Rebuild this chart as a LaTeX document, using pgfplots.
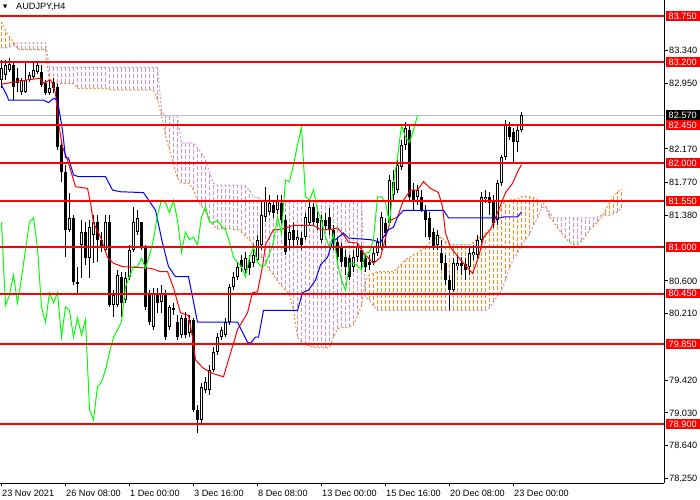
\documentclass[border=0pt]{standalone}
\usepackage{fontspec}
\setmainfont{Liberation Sans}
\newfontfamily\symfont{DejaVu Sans}
\usepackage{pgfplots}
\usepackage{pgfplotstable}
\pgfplotsset{compat=1.18}

\definecolor{sandy}{RGB}{245,140,50}
\definecolor{thist}{RGB}{200,150,200}
\definecolor{mtlime}{RGB}{0,255,0}
\definecolor{mtred}{RGB}{255,0,0}
\definecolor{mtblue}{RGB}{0,0,255}

% vertical bars drawn as error bars only
\pgfplotsset{
  vbar/.style n args={3}{color=#1, draw=none, mark=none,
    error bars/.cd, y dir=both, y explicit, error mark=none,
    error bar style={color=#1, draw=#1, line width=#2, #3}},
}

% AUDJPY H4 candles: bar index, open, high, low, close
\pgfplotstableread{
i o h l c
0 82.99 83.23 82.89 83.13
1 83.05 83.23 82.99 83.17
2 83.11 83.25 83.08 83.18
3 83.17 83.20 82.75 82.91
4 83.01 83.13 82.85 82.95
5 82.85 83.01 82.81 82.99
6 82.85 83.19 82.83 82.99
7 82.99 83.08 82.96 83.05
8 83.02 83.19 83.00 83.11
9 83.08 83.20 83.06 83.17
10 83.08 83.17 82.91 82.93
11 82.95 82.99 82.81 82.83
12 82.83 82.99 82.81 82.89
13 82.96 83.01 82.83 82.89
14 82.91 82.94 82.16 82.19
15 82.22 82.28 81.78 81.89
16 81.89 81.98 80.88 81.21
17 81.21 81.65 81.18 81.35
18 81.35 81.38 80.55 80.59
19 80.57 80.77 80.46 80.59
20 81.03 81.32 80.63 81.18
21 81.18 81.30 80.79 80.87
22 80.87 81.32 80.63 81.24
23 81.15 81.38 80.81 81.30
24 81.30 81.38 80.82 81.09
25 81.09 81.18 80.94 81.00
26 80.97 81.38 80.94 81.30
27 81.30 81.38 80.29 80.31
28 80.31 80.49 80.17 80.43
29 80.31 80.73 80.29 80.67
30 80.65 80.71 80.17 80.34
31 80.37 80.71 80.34 80.63
32 80.65 81.03 80.61 80.97
33 80.97 81.48 80.94 81.30
34 81.18 81.44 81.15 81.35
35 81.30 81.30 80.97 80.99
36 81.00 81.03 80.25 80.29
37 80.43 80.49 80.08 80.11
38 80.05 80.52 80.02 80.46
39 80.46 80.52 80.22 80.34
40 80.35 80.55 80.22 80.46
41 80.46 80.49 79.90 79.93
42 80.05 80.31 80.02 80.29
43 80.28 80.34 80.19 80.25
44 80.11 80.19 79.90 79.93
45 79.96 80.19 79.92 80.16
46 80.16 80.23 79.92 79.96
47 79.98 80.19 79.93 80.14
48 80.14 80.16 79.04 79.07
49 79.07 79.12 78.79 78.95
50 78.95 79.39 78.89 79.34
51 79.30 79.46 79.27 79.40
52 79.30 79.60 79.24 79.54
53 79.54 79.81 79.52 79.75
54 79.75 79.98 79.72 79.93
55 79.93 80.05 79.90 80.02
56 79.96 80.16 79.93 80.11
57 80.11 80.57 80.08 80.53
58 80.53 80.71 80.49 80.65
59 80.65 80.82 80.61 80.77
60 80.85 80.91 80.71 80.77
61 80.73 80.94 80.69 80.87
62 80.82 80.91 80.67 80.75
63 80.81 81.03 80.77 80.91
64 80.85 81.15 80.82 81.09
65 81.03 81.56 80.97 81.38
66 81.36 81.72 81.30 81.56
67 81.42 81.62 81.38 81.53
68 81.50 81.56 81.35 81.41
69 81.44 81.62 81.40 81.56
70 81.53 81.62 81.29 81.32
71 81.32 81.38 80.91 80.94
72 81.09 81.26 80.97 81.18
73 81.21 81.30 81.02 81.09
74 81.09 81.21 81.03 81.12
75 81.11 81.18 80.97 81.03
76 81.12 81.41 81.09 81.36
77 81.29 81.54 81.25 81.48
78 81.48 81.53 81.26 81.30
79 81.35 81.42 81.21 81.29
80 81.09 81.38 81.05 81.32
81 81.32 81.41 81.21 81.25
82 81.36 81.47 81.15 81.21
83 81.21 81.26 80.97 81.06
84 81.06 81.11 80.82 80.88
85 81.00 81.05 80.77 80.82
86 80.88 80.97 80.67 80.77
87 80.87 80.91 80.61 80.65
88 80.77 80.97 80.71 80.88
89 80.88 81.05 80.82 81.00
90 80.97 81.03 80.75 80.82
91 80.87 80.93 80.71 80.77
92 80.82 80.91 80.73 80.79
93 80.82 80.99 80.79 80.93
94 80.93 81.11 80.90 81.06
95 81.00 81.42 80.97 81.36
96 81.29 81.35 81.00 81.17
97 81.29 81.86 81.25 81.80
98 81.62 81.92 81.56 81.78
99 81.68 82.04 81.65 81.98
100 81.95 82.28 81.92 82.22
101 82.22 82.49 82.16 82.42
102 82.39 82.45 81.56 81.60
103 81.68 81.76 81.44 81.56
104 81.60 81.74 81.50 81.68
105 81.60 81.68 81.42 81.44
106 81.44 81.50 81.12 81.32
107 81.35 81.42 81.09 81.12
108 81.18 81.23 80.97 81.00
109 81.03 81.21 80.97 81.15
110 80.93 81.09 80.73 80.81
111 80.81 80.91 80.55 80.61
112 80.61 80.67 80.25 80.49
113 80.49 80.87 80.47 80.81
114 80.78 80.91 80.73 80.81
115 80.81 80.88 80.67 80.78
116 80.80 80.87 80.61 80.73
117 80.77 80.99 80.67 80.93
118 80.91 81.03 80.85 80.94
119 80.91 81.15 80.87 81.09
120 81.09 81.66 81.05 81.60
121 81.57 81.68 81.53 81.60
122 81.60 81.66 81.38 81.53
123 81.56 81.62 81.23 81.29
124 81.32 81.80 81.26 81.76
125 81.76 82.10 81.73 82.07
126 82.07 82.51 82.04 82.45
127 82.43 82.49 82.28 82.31
128 82.37 82.42 82.01 82.25
129 82.25 82.45 82.13 82.39
130 82.39 82.61 82.37 82.57
}\candles

% Ichimoku cloud: Senkou span A and span B (shifted 26 bars ahead)
\pgfplotstableread{
j a b
0 83.68 83.37
1 83.58 83.37
2 83.50 83.38
3 83.44 83.40
4 83.36 83.43
5 83.35 83.43
6 83.35 83.43
7 83.35 83.43
8 83.35 83.43
9 83.35 83.43
10 83.35 83.43
11 83.35 83.43
12 82.95 83.14
13 82.95 83.14
14 82.95 83.14
15 82.95 83.14
16 82.95 83.14
17 82.95 83.14
18 82.95 83.14
19 82.89 83.14
20 82.89 83.14
21 82.89 83.14
22 82.89 83.14
23 82.89 83.14
24 82.89 83.14
25 82.89 83.14
26 82.89 83.14
27 82.87 83.14
28 82.87 83.14
29 82.87 83.14
30 82.87 83.14
31 82.87 83.14
32 82.87 83.14
33 82.87 83.14
34 82.87 83.14
35 82.87 83.14
36 82.87 83.14
37 82.87 83.14
38 82.87 83.14
39 82.75 83.14
40 82.57 82.63
41 82.33 82.55
42 82.16 82.55
43 81.98 82.55
44 81.82 82.55
45 81.76 82.24
46 81.76 82.24
47 81.76 82.24
48 81.68 82.24
49 81.56 82.18
50 81.49 82.12
51 81.42 82.04
52 81.32 81.89
53 81.26 81.76
54 81.22 81.74
55 81.22 81.74
56 81.22 81.74
57 81.22 81.74
58 81.21 81.74
59 81.21 81.74
60 81.18 81.74
61 81.13 81.73
62 81.09 81.68
63 81.02 81.60
64 80.94 81.60
65 80.88 81.56
66 80.81 81.56
67 80.73 81.56
68 80.67 81.54
69 80.60 81.54
70 80.54 81.54
71 80.49 81.54
72 80.44 81.54
73 80.25 81.54
74 79.93 81.54
75 79.87 81.54
76 79.84 81.54
77 79.83 81.54
78 79.81 81.54
79 79.81 81.54
80 79.81 81.54
81 79.80 81.54
82 79.81 81.54
83 79.93 81.54
84 80.03 81.54
85 80.05 81.54
86 80.04 81.54
87 80.05 81.54
88 80.08 81.54
89 80.19 81.54
90 80.31 81.53
91 80.61 80.41
92 80.67 80.37
93 80.69 80.30
94 80.71 80.25
95 80.71 80.25
96 80.71 80.25
97 80.71 80.25
98 80.71 80.25
99 80.75 80.25
100 80.80 80.25
101 80.85 80.25
102 80.88 80.25
103 80.91 80.25
104 80.93 80.25
105 80.97 80.25
106 81.00 80.25
107 81.06 80.25
108 81.09 80.25
109 81.11 80.25
110 81.12 80.25
111 81.07 80.25
112 81.04 80.25
113 81.03 80.25
114 81.03 80.25
115 81.03 80.25
116 81.03 80.25
117 81.03 80.25
118 81.06 80.25
119 81.10 80.25
120 81.13 80.25
121 81.17 80.25
122 81.21 80.28
123 81.26 80.35
124 81.34 80.42
125 81.49 80.49
126 81.55 80.61
127 81.56 80.75
128 81.57 80.87
129 81.57 80.93
130 81.60 81.02
131 81.61 81.09
132 81.60 81.15
133 81.59 81.26
134 81.57 81.35
135 81.55 81.47
136 81.49 81.48
137 81.36 81.42
138 81.30 81.35
139 81.23 81.35
140 81.17 81.35
141 81.11 81.35
142 81.06 81.35
143 81.03 81.35
144 81.03 81.35
145 81.07 81.35
146 81.13 81.35
147 81.21 81.35
148 81.25 81.35
149 81.30 81.36
150 81.36 81.38
151 81.44 81.38
152 81.53 81.38
153 81.60 81.40
154 81.66 81.42
155 81.69 81.47
}\cloud

\begin{document}
\begin{tikzpicture}
\begin{axis}[
    name=ax,
    scale only axis,
    width=664bp, height=483bp,
    xmin=-0.375, xmax=165.625,
    ymin=78.197, ymax=83.94,
    axis x line*=bottom, axis y line*=right,
    axis line style={black, line width=1bp},
    clip=false,
    tick align=outside,
    major tick length=3.5bp,
    tick style={black, line width=1bp},
    xtick={0,16,...,128},
    xticklabels={23 Nov 2021,26 Nov 08:00,1 Dec 00:00,3 Dec 16:00,8 Dec 08:00,13 Dec 00:00,15 Dec 16:00,20 Dec 08:00,23 Dec 00:00},
    ytick={83.34,82.95,82.17,81.77,81.38,80.6,80.21,79.42,79.03,78.64,78.25},
    ticklabel style={font=\fontsize{9.2}{10}\selectfont},
    yticklabel style={/pgf/number format/.cd, fixed, fixed zerofill, precision=3, assume math mode=true, /tikz/.cd, anchor=west, inner sep=0pt, xshift=1.5bp},
    xticklabel style={anchor=north west, inner sep=0pt, xshift=0.5bp, yshift=-3bp},
]

% cloud hatching: one dashed stroke per bar between span A and span B
\addplot[color=sandy, draw=sandy, mark=none, line width=1.1bp, dash pattern=on 4bp off 2bp,
    restrict expr to domain={\thisrow{a}-\thisrow{b}}{0.001:10},
    quiver={u=0, v=\thisrow{a}-\thisrow{b},
            every arrow/.append style={draw=sandy, line width=1.1bp}}]
    table[x=j, y=b]{\cloud};
\addplot[color=thist, draw=thist, mark=none, line width=1.1bp, dash pattern=on 4bp off 2bp,
    restrict expr to domain={\thisrow{b}-\thisrow{a}}{0.001:10},
    quiver={u=0, v=\thisrow{b}-\thisrow{a},
            every arrow/.append style={draw=thist, line width=1.1bp}}]
    table[x=j, y=a]{\cloud};
\addplot[sandy, mark=none, line width=1bp, dash pattern=on 2bp off 2bp] table[x=j, y=a]{\cloud};
\addplot[thist, mark=none, line width=1bp, dash pattern=on 2bp off 2bp] table[x=j, y=b]{\cloud};

% current price line
\addplot[gray!50, mark=none, line width=1bp] coordinates {(-0.375,82.57) (165.625,82.57)};

% candles: wicks, bodies, hollow bullish bodies
\addplot[vbar={black}{1bp}{solid}]
    table[x=i, y expr={(\thisrow{h}+\thisrow{l})/2},
          y error expr={(\thisrow{h}-\thisrow{l})/2}]{\candles};
\addplot[vbar={black}{3bp}{solid}]
    table[x=i, y expr={(\thisrow{o}+\thisrow{c})/2},
          y error expr={max(abs(\thisrow{c}-\thisrow{o})/2,0.006)}]{\candles};
\addplot[vbar={white}{1bp}{solid}]
    table[x=i, y expr={(\thisrow{o}+\thisrow{c})/2},
          y error expr={max((\thisrow{c}-\thisrow{o})/2-0.012,0)}]{\candles};

% Tenkan-sen
\addplot[mtred, mark=none, line width=1bp] coordinates {
(0,82.94)(6.5,82.99)(9.75,83.01)(10.25,82.95)(12.25,82.99)(12.75,82.95)
(13.5,82.83)(14.25,82.48)(15.25,82.19)(16.5,82.04)(17.25,81.92)(18.5,81.72)
(21.5,81.70)(22.25,81.53)(23,81.29)(24.75,81.12)(26.5,80.88)(28,80.81)
(30.25,80.77)(37.25,80.75)(39.75,80.71)(41.5,80.71)(43,80.52)(44.75,80.22)
(46.75,80.19)(47.75,79.93)(48.5,79.66)(50.5,79.56)(52.75,79.50)(55.5,79.46)
(57.25,79.74)(59,80.02)(61.5,80.22)(62.75,80.46)(64,80.47)(65.25,80.77)
(66,81.03)(68,81.21)(69.75,81.21)(73,81.26)(78,81.26)(79.75,81.21)
(82.25,81.21)(84,81.23)(85.5,81.15)(86.75,81.06)(89,81.05)(90.5,80.93)
(93,80.81)(94.75,80.88)(96,81.11)(97.25,81.32)(99,81.36)(100.5,81.56)
(102.25,81.68)(104,81.68)(105.5,81.78)(107.25,81.70)(109.25,81.65)(110.25,81.48)
(111,81.17)(112.25,81.00)(114.75,80.85)(117.75,80.69)(119.25,80.88)(120.5,81.12)
(122.25,81.21)(124,81.41)(126,81.65)(127.75,81.76)(129.25,81.92)(130,81.98)
};
% Kijun-sen
\addplot[mtblue, mark=none, line width=1bp] coordinates {
(0,82.93)(1.5,82.79)(1.75,82.75)(10.5,82.75)(11.75,82.72)(13,82.77)
(14,82.75)(15.25,82.39)(16,82.07)(16.75,82.06)(18,81.86)(19.25,81.84)
(26,81.84)(27.75,81.68)(29.75,81.66)(35.5,81.65)(38.5,81.44)(40.25,81.05)
(41.75,80.77)(43.5,80.65)(46.75,80.65)(47.75,80.41)(49,80.11)(59,80.11)
(61.5,79.87)(62.25,79.86)(63.5,79.93)(64.25,79.93)(65.5,80.25)(74,80.25)
(75.25,80.46)(76.75,80.49)(78.5,80.61)(79.75,80.79)(81.5,80.88)(82.75,81.06)
(84,81.11)(85.5,81.17)(86.75,81.11)(92.25,81.09)(94.75,81.06)(95.5,81.12)
(96.75,81.21)(98,81.24)(99,81.36)(100.5,81.44)(110.5,81.44)(111.75,81.35)
(124.75,81.35)(125.5,81.36)(129,81.36)(130,81.42)
};
% Chikou span: close shifted 26 bars back
\addplot[mtlime, mark=none, line width=1bp, restrict x to domain=-0.4:170]
    table[x expr={\thisrow{i}-26}, y=c]{\candles};

% horizontal levels
\pgfplotsinvokeforeach{83.75,83.2,82.45,82,81.55,81,80.45,79.85,78.9}{
  \addplot[mtred, mark=none, line width=2bp] coordinates {(-0.375,#1) (165.625,#1)};
}
\pgfplotsinvokeforeach{83.750,83.200,82.450,82.000,81.550,81.000,80.450,79.850,78.900}{
  \node[fill=mtred, text=white, anchor=west, inner xsep=3bp, inner ysep=1.6bp,
        xshift=1.5bp, font=\fontsize{9.2}{10}\selectfont] at (axis cs:165.625,#1) {#1};
}
\node[fill=black, text=white, anchor=west, inner xsep=3bp, inner ysep=1.6bp,
      xshift=1.5bp, font=\fontsize{9.2}{10}\selectfont] at (axis cs:165.625,82.57) {82.570};

% title
\node[anchor=north west, inner sep=0pt, xshift=3bp, yshift=-5bp,
      font=\symfont\fontsize{5.5}{6}\selectfont] at (rel axis cs:0,1) {▼};
\node[anchor=north west, inner sep=0pt, xshift=16bp, yshift=-3bp,
      font=\fontsize{9.2}{10}\selectfont] at (rel axis cs:0,1) {AUDJPY,H4};
\end{axis}
\pgfresetboundingbox
\path[use as bounding box] (ax.north west) rectangle ([xshift=700bp,yshift=-500bp]ax.north west);
\end{tikzpicture}
\end{document}
